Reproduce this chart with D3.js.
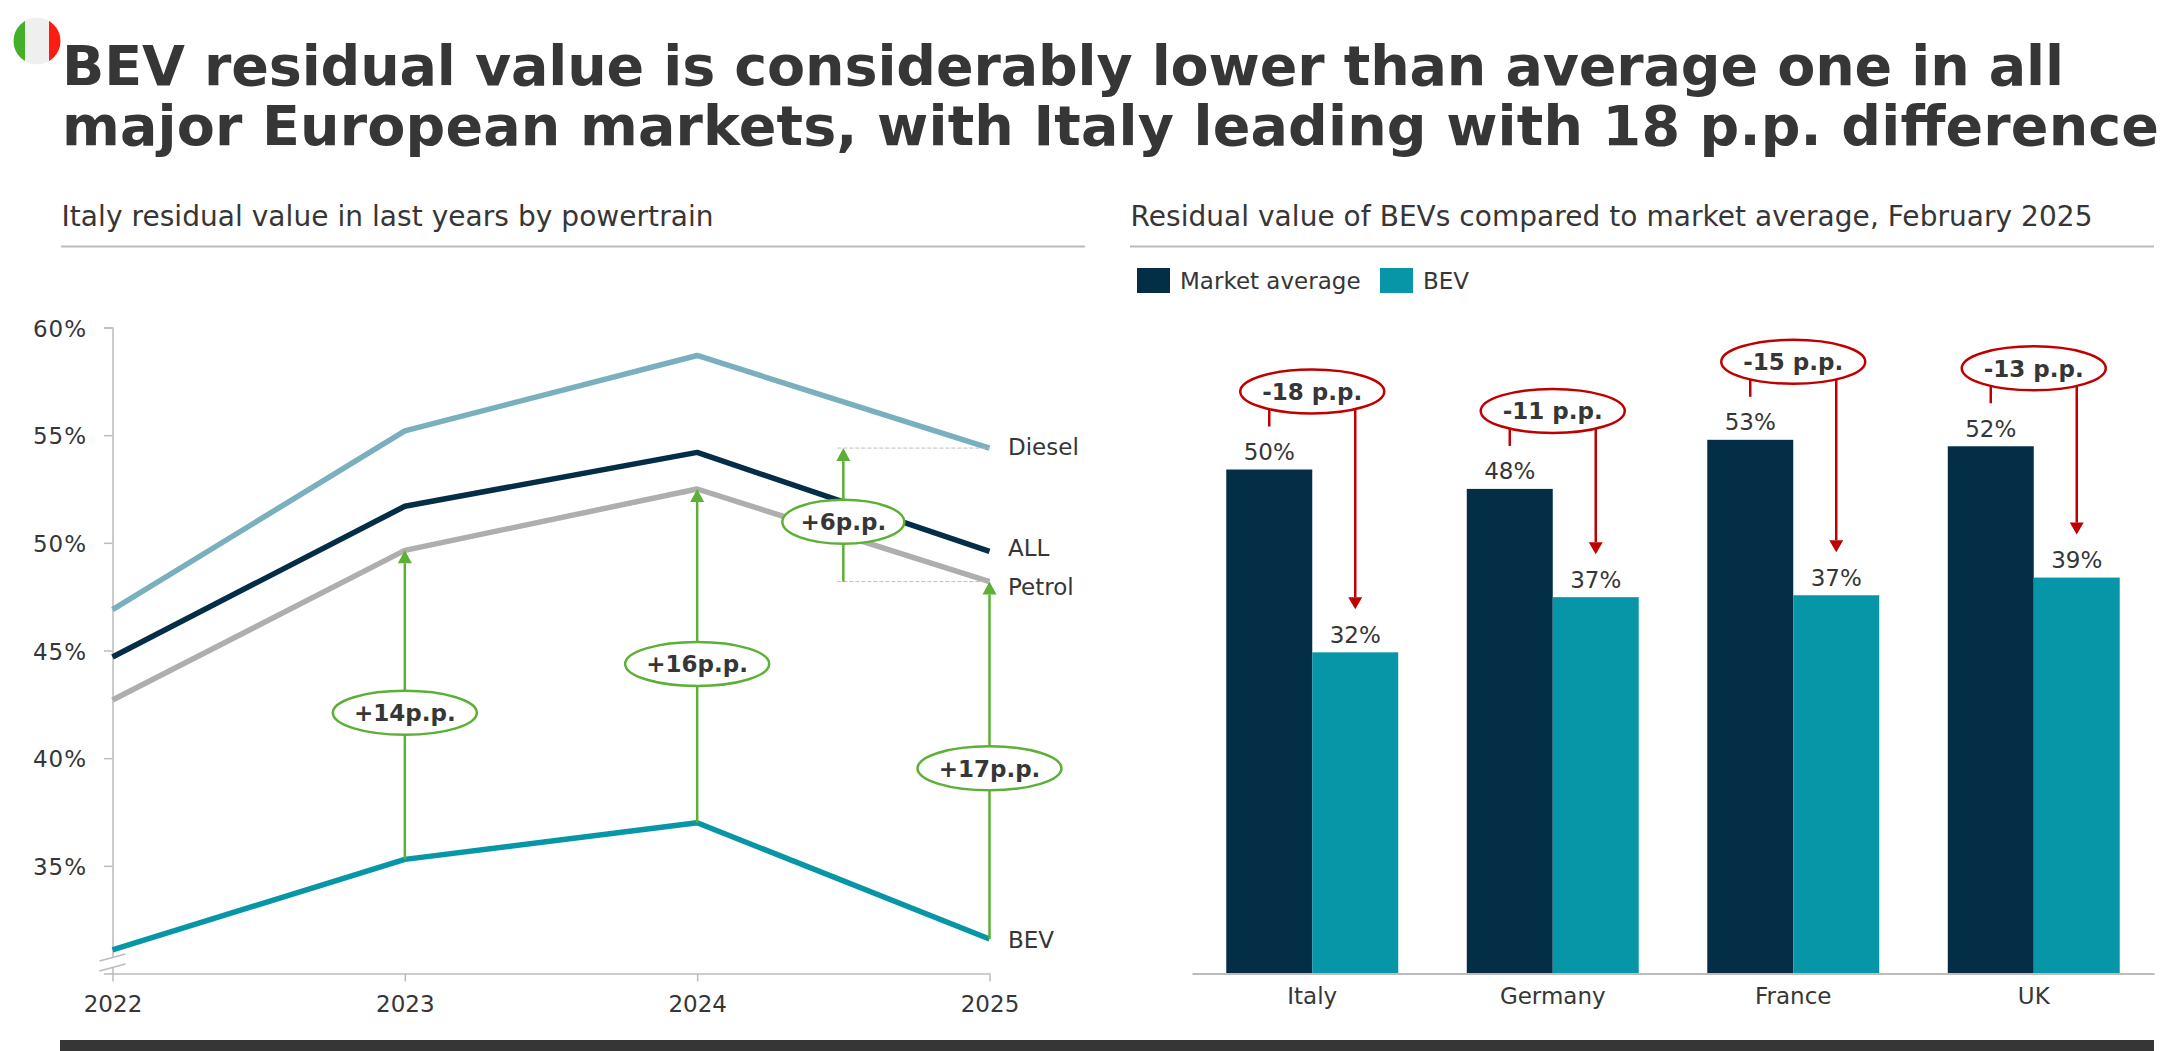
<!DOCTYPE html>
<html>
<head>
<meta charset="utf-8">
<script src="https://cdn.jsdelivr.net/npm/d3@7/dist/d3.min.js"></script>
<style>
    html, body { margin: 0; padding: 0; background: #fff; overflow: hidden; }
    text { font-family: "DejaVu Sans", Verdana, sans-serif; fill: #363636; }
</style>
</head>
<body>
<svg id="canvas" width="2171" height="1051"></svg>
<script>
//Left chart data, residual value in %
let years = [2022, 2023, 2024, 2025];
let diesel = [46.9, 55.2, 58.7, 54.4];
let allPowertrains = [44.7, 51.7, 54.2, 49.6];
let petrol = [42.7, 49.65, 52.5, 48.2];
let bev = [31.1, 35.3, 37.0, 31.6];
let yTicks = [30, 35, 40, 45, 50, 55, 60];

//Right chart data
let countries = ["Italy", "Germany", "France", "UK"];
let marketAverage = [49.9, 47.98, 52.84, 52.2];
let bevByCountry = [31.8, 37.26, 37.45, 39.2];
let gapLabels = ["-18 p.p.", "-11 p.p.", "-15 p.p.", "-13 p.p."];

//Green gap annotations on the left chart
let gapYears = [2023, 2024, 2025];
let gapTexts = ["+14p.p.", "+16p.p.", "+17p.p."];

const green = "#5bb035";
const red = "#c00000";
const grey = "#bcbcbc";
const dark = "#363636";
const navy = "#042d46";
const teal = "#0696a8";
const labelSize = 23;

let svg = d3.select("#canvas");

//Flag
let flag = svg.append("g");
flag.append("clipPath").attr("id", "flagClip")
    .append("circle").attr("cx", 37).attr("cy", 41).attr("r", 23.5);
let flagGroup = flag.append("g").attr("clip-path", "url(#flagClip)");
flagGroup.append("rect").attr("x", 13).attr("y", 17).attr("width", 12).attr("height", 48).attr("fill", "#44b02a");
flagGroup.append("rect").attr("x", 25).attr("y", 17).attr("width", 24).attr("height", 48).attr("fill", "#efefef");
flagGroup.append("rect").attr("x", 49).attr("y", 17).attr("width", 12).attr("height", 48).attr("fill", "#ff1a12");

//Title
let titleLines = [
    { text: "BEV residual value is considerably lower than average one in all", width: 2002 },
    { text: "major European markets, with Italy leading with 18 p.p. difference", width: 2097 }
];
svg.selectAll(".title").data(titleLines).join("text")
    .attr("class", "title")
    .attr("x", 62)
    .attr("y", (d, i) => 85 + i * 60)
    .attr("font-size", 55.5)
    .attr("font-weight", "bold")
    .attr("textLength", d => d.width)
    .attr("lengthAdjust", "spacing")
    .text(d => d.text);

//Panel headers
let headers = [
    { text: "Italy residual value in last years by powertrain", x0: 61, x1: 1085, width: 652 },
    { text: "Residual value of BEVs compared to market average, February 2025", x0: 1130, x1: 2154, width: 962 }
];
svg.selectAll(".header").data(headers).join("text")
    .attr("class", "header")
    .attr("x", d => d.x0 + 0.5)
    .attr("y", 226)
    .attr("font-size", 28)
    .attr("textLength", d => d.width)
    .attr("lengthAdjust", "spacing")
    .text(d => d.text);
svg.selectAll(".rule").data(headers).join("line")
    .attr("class", "rule")
    .attr("x1", d => d.x0)
    .attr("x2", d => d.x1)
    .attr("y1", 246.5)
    .attr("y2", 246.5)
    .attr("stroke", grey)
    .attr("stroke-width", 2);

//Footer bar
svg.append("rect").attr("x", 60).attr("y", 1040).attr("width", 2094).attr("height", 11).attr("fill", dark);

//Left chart scales
let xLeft = d3.scaleLinear().domain([2022, 2025]).range([112.5, 989.5]);
let yLeft = d3.scaleLinear().domain([30, 60]).range([973.5, 327.5]);

//Axes
let yAxisLeft = d3.axisLeft(yLeft)
    .tickValues(yTicks.slice(1))
    .tickFormat(d => d + "%")
    .tickSize(8.5)
    .tickPadding(17);
let gy = svg.append("g").attr("transform", "translate(112.5,0)").call(yAxisLeft);
let xAxisLeft = d3.axisBottom(xLeft)
    .tickValues(years)
    .tickFormat(d3.format("d"))
    .tickSize(8)
    .tickSizeOuter(0)
    .tickPadding(14);
let gx = svg.append("g").attr("transform", "translate(0,973.5)").call(xAxisLeft);
[gy, gx].forEach(g => {
    g.selectAll("path, line").attr("stroke", grey).attr("stroke-width", 1.5);
    g.selectAll("text").attr("font-size", labelSize).style("fill", dark);
});
gy.selectAll("text").style("letter-spacing", "1px").attr("dy", "0.38em");

//Break marks on the y axis
let brk = svg.append("g");
brk.append("path").attr("d", "M99.5,971 L125.5,964 L125.5,954 L99.5,961 Z").attr("fill", "#fff");
[961, 971].forEach(y => {
    brk.append("line").attr("x1", 99.5).attr("x2", 125.5).attr("y1", y).attr("y2", y - 7)
        .attr("stroke", grey).attr("stroke-width", 1.5);
});

//Lines
let lineSeries = [
    { name: "Diesel", values: diesel, color: "#7aafbe", labelDy: 0 },
    { name: "ALL", values: allPowertrains, color: navy, labelDy: -3 },
    { name: "Petrol", values: petrol, color: "#aeaeae", labelDy: 6 },
    { name: "BEV", values: bev, color: teal, labelDy: 1.5 }
];
let lineGen = d3.line()
    .x((d, i) => xLeft(years[i]))
    .y(d => yLeft(d));
svg.selectAll(".series").data(lineSeries).join("path")
    .attr("class", "series")
    .attr("d", d => lineGen(d.values))
    .attr("fill", "none")
    .attr("stroke", d => d.color)
    .attr("stroke-width", 5.5)
    .attr("stroke-linejoin", "round");
svg.selectAll(".seriesLabel").data(lineSeries).join("text")
    .attr("class", "seriesLabel")
    .attr("x", 1008)
    .attr("y", d => yLeft(d.values[3]) + d.labelDy)
    .attr("dy", "0.32em")
    .attr("font-size", labelSize)
    .text(d => d.name);

//Draws an arrow going from y0 to the tip at y1, tip is a small triangle
function arrow(x, y0, y1, color, headW, headH) {
    let dir = y1 < y0 ? 1 : -1;
    svg.append("line")
        .attr("x1", x).attr("x2", x)
        .attr("y1", y0).attr("y2", y1 + dir * headH)
        .attr("stroke", color).attr("stroke-width", 2.5);
    svg.append("path")
        .attr("d", "M" + x + "," + y1 + " L" + (x + headW / 2) + "," + (y1 + dir * headH) +
            " L" + (x - headW / 2) + "," + (y1 + dir * headH) + " Z")
        .attr("fill", color);
}

//Ellipse with a bold label
function bubble(x, y, label, color, rx) {
    svg.append("ellipse")
        .attr("cx", x).attr("cy", y)
        .attr("rx", rx).attr("ry", 22)
        .attr("fill", "#fff")
        .attr("stroke", color)
        .attr("stroke-width", 2.5);
    svg.append("text")
        .attr("x", x).attr("y", y)
        .attr("dy", "0.36em")
        .attr("text-anchor", "middle")
        .attr("font-size", labelSize)
        .attr("font-weight", "bold")
        .text(label);
}

//Petrol vs BEV gaps
gapYears.forEach((year, i) => {
    let k = years.indexOf(year);
    let x = xLeft(year);
    let yTop = yLeft(petrol[k]);
    let yBottom = yLeft(bev[k]);
    arrow(x, yBottom, yTop, green, 14, 13);
    bubble(x, (yTop + yBottom) / 2 + 8, gapTexts[i], green, 72);
});

//Diesel vs Petrol gap in 2025
let x6 = xLeft(2024.5);
[diesel[3], petrol[3]].forEach(v => {
    svg.append("line")
        .attr("x1", x6 - 6).attr("x2", xLeft(2025))
        .attr("y1", yLeft(v)).attr("y2", yLeft(v))
        .attr("stroke", grey)
        .attr("stroke-width", 1)
        .attr("stroke-dasharray", "4,2");
});
arrow(x6, yLeft(petrol[3]), yLeft(diesel[3]), green, 14, 13);
bubble(x6, (yLeft(petrol[3]) + yLeft(diesel[3])) / 2 + 7, "+6p.p.", green, 61);

//Right chart scales
let xRight = d3.scaleBand().domain(countries).range([1192, 2154]).paddingInner(0.285).paddingOuter(0.1425);
let xSeries = d3.scaleBand().domain(["market", "bev"]).range([0, xRight.bandwidth()]);
let yRight = d3.scaleLinear().domain([0, 60]).range([973.5, 367.5]);

//Bars
let barSeries = [
    { key: "market", values: marketAverage, color: navy },
    { key: "bev", values: bevByCountry, color: teal }
];
barSeries.forEach(s => {
    let barX = (d, i) => xRight(countries[i]) + xSeries(s.key);
    svg.selectAll(".bar-" + s.key).data(s.values).join("rect")
        .attr("class", "bar-" + s.key)
        .attr("x", barX)
        .attr("y", d => yRight(d))
        .attr("width", xSeries.bandwidth())
        .attr("height", d => yRight(0) - yRight(d))
        .attr("fill", s.color);
    svg.selectAll(".barLabel-" + s.key).data(s.values).join("text")
        .attr("class", "barLabel-" + s.key)
        .attr("x", (d, i) => barX(d, i) + xSeries.bandwidth() / 2)
        .attr("y", d => yRight(d) - 17)
        .attr("dy", "0.32em")
        .attr("text-anchor", "middle")
        .attr("font-size", labelSize)
        .text(d => d3.format(".0f")(d) + "%");
});

//Category axis
let xAxisRight = d3.axisBottom(xRight).tickSize(0).tickPadding(14);
let gxRight = svg.append("g").attr("transform", "translate(0,973.5)").call(xAxisRight);
gxRight.select("path").attr("stroke", grey).attr("stroke-width", 2);
gxRight.selectAll("text").attr("font-size", labelSize).style("fill", dark);

//Red gap annotations, positions follow the market bar
countries.forEach((c, i) => {
    let top = yRight(marketAverage[i]);
    let xm = xRight(c) + xSeries("market") + xSeries.bandwidth() / 2;
    let xb = xRight(c) + xSeries("bev") + xSeries.bandwidth() / 2;
    svg.append("line")
        .attr("x1", xm).attr("x2", xm)
        .attr("y1", top - 78).attr("y2", top - 43)
        .attr("stroke", red).attr("stroke-width", 2.5);
    arrow(xb, top - 78, yRight(bevByCountry[i]) - 43, red, 14, 12);
    bubble(xRight(c) + xRight.bandwidth() / 2, top - 78, gapLabels[i], red, 72);
});

//Legend
let legendItems = [
    { text: "Market average", x: 1137, color: navy },
    { text: "BEV", x: 1380, color: teal }
];
svg.selectAll(".legendSwatch").data(legendItems).join("rect")
    .attr("class", "legendSwatch")
    .attr("x", d => d.x)
    .attr("y", 268)
    .attr("width", 33)
    .attr("height", 25)
    .attr("fill", d => d.color);
svg.selectAll(".legendText").data(legendItems).join("text")
    .attr("class", "legendText")
    .attr("x", d => d.x + 43)
    .attr("y", 282)
    .attr("dy", "0.32em")
    .attr("font-size", labelSize)
    .text(d => d.text);
</script>
</body>
</html>
